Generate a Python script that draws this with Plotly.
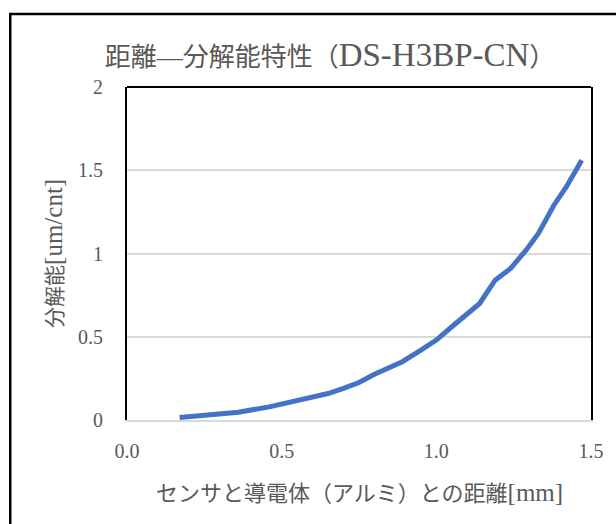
import plotly.graph_objects as go

# Data
distance_mm = [0.17, 0.25, 0.36, 0.46, 0.55, 0.65, 0.70, 0.75, 0.80, 0.85, 0.89,
               0.95, 1.00, 1.05, 1.10, 1.14, 1.19, 1.24, 1.29, 1.33, 1.38, 1.42, 1.47]
resolution_um = [0.015, 0.03, 0.047, 0.079, 0.119, 0.159, 0.19, 0.225, 0.275, 0.32, 0.35,
                 0.42, 0.48, 0.56, 0.64, 0.70, 0.84, 0.91, 1.02, 1.12, 1.29, 1.40, 1.56]

x_ticks = [0.0, 0.5, 1.0, 1.5]
y_ticks = [0, 0.5, 1, 1.5, 2]

title_text = "距離—分解能特性（<span style='font-size:33px'>DS-H3BP-CN</span>）"
x_title = "センサと導電体（アルミ）との距離<span style='font-size:25px'>[mm]</span>"
y_title = "分解能<span style='font-size:25px'>[um/cnt]</span>"

FONT = "Liberation Serif, Noto Sans CJK JP, serif"
GRAY = "#595959"

W, H = 616, 524
L, R, T, B = 127, 16, 87, 103.5
pw = W - L - R
ph = H - T - B

fig = go.Figure()
fig.add_trace(go.Scatter(
    x=distance_mm, y=resolution_um, mode="lines",
    line=dict(color="#4472C4", width=5),
    showlegend=False, hoverinfo="skip",
))

fig.update_layout(
    width=W, height=H,
    margin=dict(l=L, r=R, t=T, b=B),
    paper_bgcolor="white", plot_bgcolor="white",
    font=dict(family=FONT, color=GRAY),
    title=dict(text=title_text, x=330 / W, xanchor="center",
               y=1 - 57 / H, yanchor="middle",
               font=dict(family=FONT, size=26, color=GRAY)),
    xaxis=dict(range=[0, 1.5], tickvals=x_ticks, tickformat=".1f",
               showgrid=False, zeroline=False,
               showline=True, linecolor="#D9D9D9", linewidth=1.5,
               ticks="", ticklabelstandoff=12,
               tickfont=dict(family=FONT, size=20, color=GRAY)),
    yaxis=dict(range=[0, 2], tickvals=y_ticks,
               showgrid=True, gridcolor="#D9D9D9", gridwidth=1.5,
               zeroline=False,
               showline=True, linecolor="black", linewidth=2, mirror=True,
               ticks="", ticklabelstandoff=18,
               tickfont=dict(family=FONT, size=20, color=GRAY)),
)

# top border of the plot area
fig.add_shape(type="line", xref="paper", yref="paper", x0=0, x1=1, y0=1, y1=1,
              line=dict(color="black", width=2))
# outer chart border (extends past right/bottom edges of the view)
fig.add_shape(type="rect", xref="paper", yref="paper",
              x0=(8 - L) / pw, x1=(W + 40 - L) / pw,
              y0=-(H + 40 - (T + ph)) / ph, y1=(T + ph - 14) / ph,
              line=dict(color="black", width=2.5), fillcolor="rgba(0,0,0,0)",
              layer="below")

fig.add_annotation(text=y_title, xref="paper", yref="paper",
                   x=(52 - L) / pw, y=0.5, xanchor="center", yanchor="middle",
                   textangle=-90, showarrow=False,
                   font=dict(family=FONT, size=21, color=GRAY))
fig.add_annotation(text=x_title, xref="paper", yref="paper",
                   x=0.5, y=-(493 - (T + ph)) / ph, xanchor="center", yanchor="middle",
                   showarrow=False,
                   font=dict(family=FONT, size=22, color=GRAY))

fig.write_html("out.html", config={"displayModeBar": False},
               post_script="document.body.style.margin='0';document.body.style.overflow='hidden';")
